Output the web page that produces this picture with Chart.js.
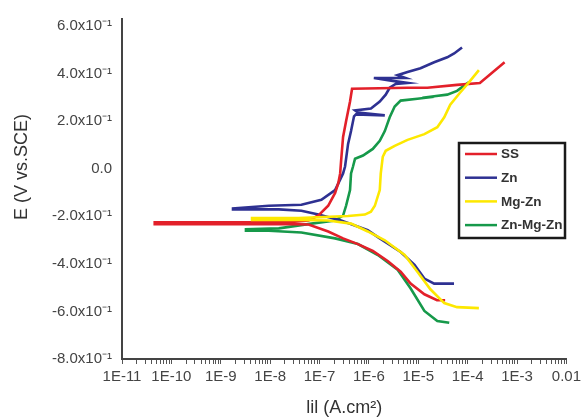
<!DOCTYPE html>
<html><head><meta charset="utf-8">
<script src="https://cdn.jsdelivr.net/npm/chart.js@4.4.1/dist/chart.umd.min.js"></script>
<style>html,body{margin:0;padding:0;background:#fff;}</style>
</head><body>
<canvas id="c" width="585" height="420"></canvas>
<script>
// ---- data (current density A/cm2, potential V vs SCE) ----
const seriesNames = ['SS', 'Zn', 'Mg-Zn', 'Zn-Mg-Zn'];

const ssI = [3.5e-5, 2.4e-5, 1.33e-5, 7e-6, 4.4e-6, 2.4e-6, 1.2e-6, 6e-7, 3e-7, 1.5e-7, 6e-8, 2.4e-8, 4.6e-11, 4.6e-11, 2.4e-8, 6e-8, 9.5e-8, 1.5e-7, 2.07e-7, 2.4e-7, 2.62e-7, 2.74e-7, 3.0e-7, 3.45e-7, 4.15e-7, 4.56e-7, 6.07e-6, 1.53e-5, 6.1e-5, 1.77e-4, 5.6e-4];
const ssE = [-0.553, -0.553, -0.528, -0.483, -0.433, -0.388, -0.346, -0.317, -0.293, -0.264, -0.235, -0.233, -0.233, -0.225, -0.225, -0.218, -0.197, -0.156, -0.102, -0.061, -0.020, 0.034, 0.133, 0.199, 0.282, 0.336, 0.340, 0.340, 0.352, 0.360, 0.447];

const znI = [5.3e-5, 2.1e-5, 1.33e-5, 8.4e-6, 4.4e-6, 1.52e-6, 9.5e-7, 2.74e-7, 9.5e-8, 4.3e-8, 1.5e-8, 1.77e-9, 1.77e-9, 9.4e-9, 4.3e-8, 1.09e-7, 2.07e-7, 3.0e-7, 3.29e-7, 3.79e-7, 4.35e-7, 5.0e-7, 5.48e-7, 2.1e-6, 6.0e-7, 5.24e-7, 1.1e-6, 1.66e-6, 2.19e-6, 2.64e-6, 3.48e-6, 6.07e-6, 3.03e-6, 1.26e-6, 5.53e-6, 3.82e-6, 6.07e-6, 1.11e-5, 2.1e-5, 3.86e-5, 5.33e-5, 7.7e-5];
const znE = [-0.483, -0.483, -0.462, -0.404, -0.350, -0.288, -0.259, -0.218, -0.193, -0.177, -0.171, -0.171, -0.167, -0.156, -0.152, -0.131, -0.090, -0.020, 0.009, 0.104, 0.158, 0.220, 0.228, 0.224, 0.236, 0.245, 0.253, 0.282, 0.311, 0.340, 0.356, 0.360, 0.369, 0.381, 0.381, 0.393, 0.406, 0.422, 0.447, 0.468, 0.484, 0.509];

const mgI = [1.69e-4, 6.1e-5, 3.36e-5, 1.76e-5, 9.6e-6, 5.3e-6, 2.1e-6, 9.5e-7, 4.35e-7, 1.5e-7, 3.75e-8, 4.3e-9, 4.3e-9, 3.75e-8, 3.79e-7, 8.3e-7, 1.1e-6, 1.32e-6, 1.66e-6, 1.74e-6, 1.91e-6, 2.19e-6, 3.33e-6, 6.07e-6, 1.33e-5, 2.43e-5, 3.36e-5, 4.44e-5, 7.0e-5, 1.07e-4, 1.69e-4];
const mgE = [-0.586, -0.582, -0.565, -0.507, -0.433, -0.363, -0.301, -0.264, -0.231, -0.218, -0.216, -0.216, -0.208, -0.208, -0.199, -0.193, -0.181, -0.156, -0.090, -0.020, 0.050, 0.075, 0.096, 0.121, 0.145, 0.174, 0.216, 0.269, 0.319, 0.364, 0.414];

const zmzI = [4.24e-5, 2.43e-5, 1.33e-5, 6.97e-6, 3.82e-6, 1.52e-6, 6.0e-7, 2.07e-7, 4.3e-8, 9.4e-9, 3.24e-9, 3.24e-9, 1.5e-8, 6.84e-8, 2.07e-7, 3.0e-7, 3.45e-7, 4.15e-7, 4.35e-7, 4.77e-7, 5.24e-7, 7.6e-7, 1.2e-6, 1.66e-6, 2.1e-6, 2.64e-6, 3.33e-6, 4.4e-6, 9.6e-6, 2.1e-5, 1.21e-5, 2.1e-5, 3.86e-5, 6.1e-5, 8.9e-5, 1.07e-4];
const zmzE = [-0.648, -0.640, -0.598, -0.503, -0.425, -0.363, -0.317, -0.293, -0.268, -0.261, -0.261, -0.255, -0.251, -0.231, -0.218, -0.197, -0.156, -0.090, -0.020, 0.009, 0.042, 0.055, 0.083, 0.117, 0.158, 0.216, 0.261, 0.286, 0.294, 0.302, 0.298, 0.304, 0.311, 0.327, 0.352, 0.364];

// ---- tick labels / titles ----
const xDecades = [1e-11, 1e-10, 1e-9, 1e-8, 1e-7, 1e-6, 1e-5, 1e-4, 1e-3, 1e-2];
const xTickLabels = ['1E-11', '1E-10', '1E-9', '1E-8', '1E-7', '1E-6', '1E-5', '1E-4', '1E-3', '0.01'];
const xMinorMultipliers = [2, 3, 4, 5, 6, 7, 8, 9];
const yTickValues = [-0.8, -0.6, -0.4, -0.2, 0, 0.2, 0.4, 0.6];
const yTickLabels = ['-8.0x10⁻¹', '-6.0x10⁻¹', '-4.0x10⁻¹', '-2.0x10⁻¹', '0.0', '2.0x10⁻¹', '4.0x10⁻¹', '6.0x10⁻¹'];
const xTitle = 'lil (A.cm²)';
const yTitle = 'E (V vs.SCE)';

const colors = ['#e3202a', '#2e3192', '#fde800', '#16994a'];

function pts(xs, ys) { return xs.map((x, i) => ({x: x, y: ys[i]})); }

const FONT = '"Liberation Sans", Arial, sans-serif';
Chart.defaults.font.family = FONT;

const boxLegend = {
  id: 'boxLegend',
  afterDraw(chart) {
    const ctx = chart.ctx;
    ctx.save();
    ctx.fillStyle = '#ffffff';
    ctx.fillRect(459, 143, 106, 95);
    ctx.lineWidth = 2.5;
    ctx.strokeStyle = '#1a1a1a';
    ctx.strokeRect(459, 143, 106, 95);
    chart.data.datasets.forEach((ds, i) => {
      const y = 154 + i * 23.7;
      ctx.beginPath();
      ctx.strokeStyle = ds.borderColor;
      ctx.lineWidth = 2.5;
      ctx.moveTo(465, y);
      ctx.lineTo(497, y);
      ctx.stroke();
      ctx.fillStyle = '#333333';
      ctx.font = 'bold 13.5px ' + FONT;
      ctx.textBaseline = 'middle';
      ctx.textAlign = 'left';
      ctx.fillText(ds.label, 501, y + 0.5);
    });
    // y-axis title (placed as in the reference, above the axis centre)
    ctx.save();
    ctx.translate(22, 167);
    ctx.rotate(-Math.PI / 2);
    ctx.fillStyle = '#333333';
    ctx.font = '18px ' + FONT;
    ctx.textAlign = 'center';
    ctx.textBaseline = 'middle';
    ctx.fillText(yTitle, 0, 0);
    ctx.restore();
    ctx.restore();
  }
};

const datasets = [
  {label: seriesNames[0], data: pts(ssI, ssE), borderColor: colors[0], order: 1},
  {label: seriesNames[1], data: pts(znI, znE), borderColor: colors[1], order: 2},
  {label: seriesNames[2], data: pts(mgI, mgE), borderColor: colors[2], order: 0},
  {label: seriesNames[3], data: pts(zmzI, zmzE), borderColor: colors[3], order: 3}
].map(d => Object.assign(d, {showLine: true, pointRadius: 0, borderWidth: 2.6, tension: 0, fill: false, backgroundColor: d.borderColor}));

new Chart(document.getElementById('c'), {
  type: 'scatter',
  data: {datasets: datasets},
  options: {
    responsive: false,
    animation: false,
    devicePixelRatio: 1,
    layout: {padding: {top: 13, right: 17, bottom: 0, left: 0}},
    plugins: {legend: {display: false}, tooltip: {enabled: false}},
    scales: {
      x: {
        type: 'logarithmic',
        min: 1e-11,
        max: 1e-2,
        afterBuildTicks: s => {
          const t = [];
          xDecades.forEach((d, i) => {
            t.push({value: d, major: true});
            if (i < xDecades.length - 1) xMinorMultipliers.forEach(m => t.push({value: d * m, major: false}));
          });
          s.ticks = t;
        },
        afterFit: s => { s.height = 61; },
        ticks: {
          autoSkip: false, maxRotation: 0, minRotation: 0, padding: 4,
          font: {size: 15}, color: '#444',
          callback: (v) => {
            const idx = xDecades.findIndex(d => Math.abs(Math.log10(d) - Math.log10(v)) < 1e-6);
            return idx >= 0 ? xTickLabels[idx] : '';
          }
        },
        grid: {drawOnChartArea: false, drawTicks: true, tickLength: 5, tickColor: '#555', tickWidth: 1},
        border: {display: true, color: '#444', width: 2},
        title: {display: true, text: xTitle, font: {size: 18}, color: '#333', padding: {top: 0, bottom: 1}}
      },
      y: {
        type: 'linear',
        min: -0.8,
        max: 0.629,
        afterBuildTicks: s => { s.ticks = yTickValues.map(v => ({value: v})); },
        afterFit: s => { s.width = 122; },
        ticks: {
          padding: 10, font: {size: 15}, color: '#444',
          callback: (v) => {
            const idx = yTickValues.findIndex(t => Math.abs(t - v) < 1e-6);
            return idx >= 0 ? yTickLabels[idx] : '';
          }
        },
        grid: {drawOnChartArea: false, drawTicks: false},
        border: {display: true, color: '#444', width: 2},
        title: {display: false, text: yTitle}
      }
    }
  },
  plugins: [boxLegend]
});
</script>
</body></html>
